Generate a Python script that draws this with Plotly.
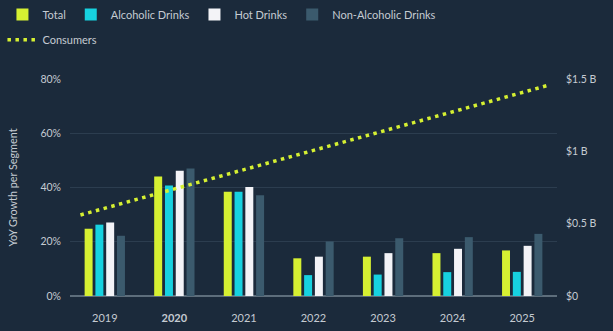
import plotly.graph_objects as go

# Segment growth (YoY %) by year
years = [2019, 2020, 2021, 2022, 2023, 2024, 2025]
year_labels = ["2019", "<b>2020</b>", "2021", "2022", "2023", "2024", "2025"]
total = [24.8, 44.1, 38.4, 13.9, 14.5, 15.8, 16.8]
alcoholic = [26.3, 40.7, 38.4, 7.7, 7.9, 8.8, 8.9]
hot = [27.1, 46.2, 40.2, 14.5, 15.8, 17.4, 18.5]
non_alcoholic = [22.2, 47.0, 37.1, 20.1, 21.3, 21.7, 22.9]

# Consumer spend trend (billions of $), start and end of the period
consumer_x = [2018.65, 2025.4]
consumer_b = [0.56, 1.46]

pct_ticks = [0, 20, 40, 60, 80]
pct_labels = ["0%", "20%", "40%", "60%", "80%"]
usd_ticks = [0, 0.5, 1.0, 1.5]
usd_labels = ["$0", "$0.5 B", "$1 B", "$1.5 B"]

BG = "#1b2a3b"
TXT = "#c5cbd2"
FONT = "Lato"

fig = go.Figure()

series = [
    ("Total", total, "#d6f032"),
    ("Alcoholic Drinks", alcoholic, "#17d2e0"),
    ("Hot Drinks", hot, "#f3f3f7"),
    ("Non-Alcoholic Drinks", non_alcoholic, "#3b5a6d"),
]
for name, vals, col in series:
    fig.add_trace(go.Bar(x=years, y=vals, name=name, marker_color=col,
                         marker_line_width=0, legend="legend"))

fig.add_trace(go.Scatter(
    x=consumer_x, y=consumer_b, name="Consumers", mode="lines",
    line=dict(color="#d6f032", width=3.5, dash="3.5px,4.5px"),
    yaxis="y2", legend="legend2",
))

fig.update_layout(
    width=613, height=331,
    margin=dict(l=70, r=56, t=79, b=35, autoexpand=False),
    paper_bgcolor=BG, plot_bgcolor=BG,
    font=dict(family=FONT, color=TXT, size=11),
    barmode="group", bargap=0.38, bargroupgap=0.26,
    showlegend=True,
    legend=dict(orientation="h", xref="container", yref="container",
                x=0.004, y=1.0, xanchor="left", yanchor="top",
                bgcolor="rgba(0,0,0,0)", font=dict(size=11, color=TXT),
                itemwidth=30, traceorder="normal"),
    legend2=dict(orientation="h", xref="container", yref="container",
                 x=0.004, y=0.924, xanchor="left", yanchor="top",
                 bgcolor="rgba(0,0,0,0)", font=dict(size=11, color=TXT),
                 itemwidth=30),
    xaxis=dict(range=[2018.5, 2025.5], tickvals=years, ticktext=year_labels,
               showgrid=False, zeroline=False, showline=False, ticks="",
               tickfont=dict(size=11, color=TXT), ticklabelstandoff=14),
    yaxis=dict(range=[0, 80], tickvals=pct_ticks, ticktext=pct_labels,
               showgrid=True, gridcolor="#2c3d4f", gridwidth=1,
               zeroline=True, zerolinecolor="#5d6d7b", zerolinewidth=2,
               ticks="", tickfont=dict(size=10.5, color=TXT),
               ticklabelstandoff=8,
               title=dict(text="YoY Growth per Segment",
                          font=dict(size=10.8, color=TXT), standoff=20)),
    yaxis2=dict(range=[0, 1.5], overlaying="y", side="right",
                tickvals=usd_ticks, ticktext=usd_labels, showgrid=False,
                zeroline=False, ticks="", tickfont=dict(size=10.5, color=TXT),
                ticklabelstandoff=8),
)

fig.write_html("out.html")
